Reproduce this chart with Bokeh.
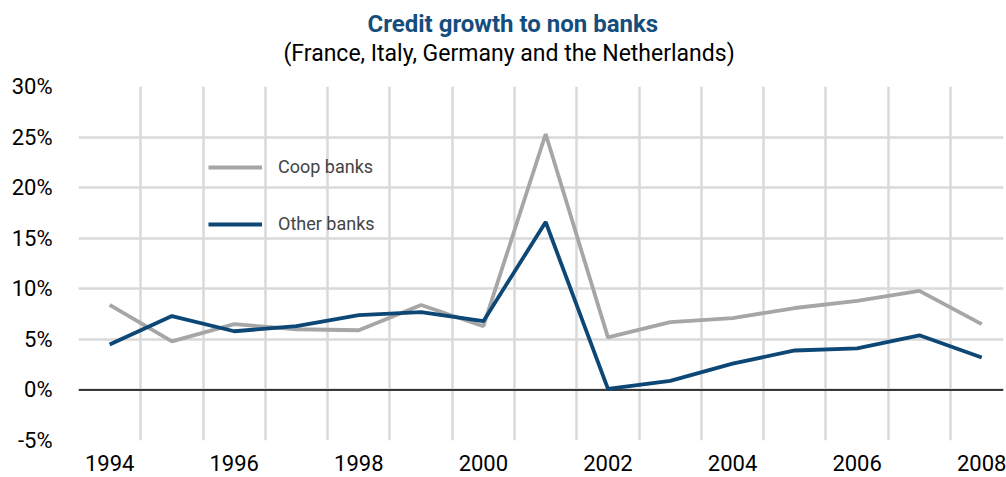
from bokeh.plotting import figure
from bokeh.models import (Title, FixedTicker, PrintfTickFormatter, Span, Legend, LegendItem, Range1d)
from bokeh.embed import file_html
from bokeh.resources import INLINE

years = [1994, 1995, 1996, 1997, 1998, 1999, 2000, 2001, 2002, 2003, 2004, 2005, 2006, 2007, 2008]
coop_banks = [8.4, 4.8, 6.5, 6.0, 5.9, 8.4, 6.3, 25.3, 5.2, 6.7, 7.1, 8.1, 8.8, 9.8, 6.5]
other_banks = [4.5, 7.3, 5.8, 6.3, 7.4, 7.7, 6.8, 16.6, 0.1, 0.9, 2.6, 3.9, 4.1, 5.4, 3.2]
x_tick_labels = [1994, 1996, 1998, 2000, 2002, 2004, 2006, 2008]
y_ticks = [-5, 0, 5, 10, 15, 20, 25, 30]

FONT = "Roboto"
GRAY = "#a6a6a6"
BLUE = "#0d4775"

p = figure(width=1006, height=477, output_backend="svg", toolbar_location=None,
           x_range=Range1d(1993.5, 2008.35), y_range=Range1d(-5, 30),
           min_border_left=78, min_border_right=3, min_border_bottom=37, min_border_top=86)
p.title = None
p.outline_line_color = None

spacer = Title(text=" ", align="left", standoff=17, text_font=FONT, text_font_size="1px")
sub = Title(text="(France, Italy, Germany and the Netherlands)", align="left", offset=205, standoff=0,
            text_font=FONT, text_font_size="23px", text_font_style="normal", text_color="black")
main = Title(text="Credit growth to non banks", align="left", offset=289, standoff=0,
             text_font=FONT, text_font_size="24px", text_font_style="bold", text_color="#154e7c")
p.add_layout(spacer, "above")
p.add_layout(sub, "above")
p.add_layout(main, "above")

# axes
p.xaxis.ticker = FixedTicker(ticks=x_tick_labels)
p.yaxis.ticker = FixedTicker(ticks=y_ticks)
p.yaxis.formatter = PrintfTickFormatter(format="%d%%")
for ax in (p.xaxis[0], p.yaxis[0]):
    ax.axis_line_color = None
    ax.major_tick_line_color = None
    ax.minor_tick_line_color = None
    ax.major_label_text_font = FONT
    ax.major_label_text_font_size = "22px"
    ax.major_label_text_color = "black"
p.xaxis.major_label_standoff = 8
p.yaxis.major_label_standoff = 20

# grids
p.xgrid.ticker = FixedTicker(ticks=[y - 0.5 for y in years] + [2008.5])
p.ygrid.ticker = FixedTicker(ticks=y_ticks)
for g in (p.xgrid[0], p.ygrid[0]):
    g.grid_line_color = "#d9d9d9"
    g.grid_line_width = 2.5

zero = Span(location=0, dimension="width", line_color="black", line_width=1.5, level="underlay")
p.add_layout(zero)

r1 = p.line(years, coop_banks, line_color=GRAY, line_width=3.8)
r2 = p.line(years, other_banks, line_color=BLUE, line_width=3.8)

legend = Legend(items=[LegendItem(label="Coop banks", renderers=[r1]),
                       LegendItem(label="Other banks", renderers=[r2])],
                location=(130, 206), orientation="vertical",
                border_line_alpha=0, background_fill_alpha=0,
                padding=0, margin=0, spacing=36, glyph_width=54, glyph_height=20,
                label_standoff=16, label_text_font=FONT, label_text_font_size="18px")
p.add_layout(legend, "center")

open("out.html", "w").write(file_html(p, INLINE))
